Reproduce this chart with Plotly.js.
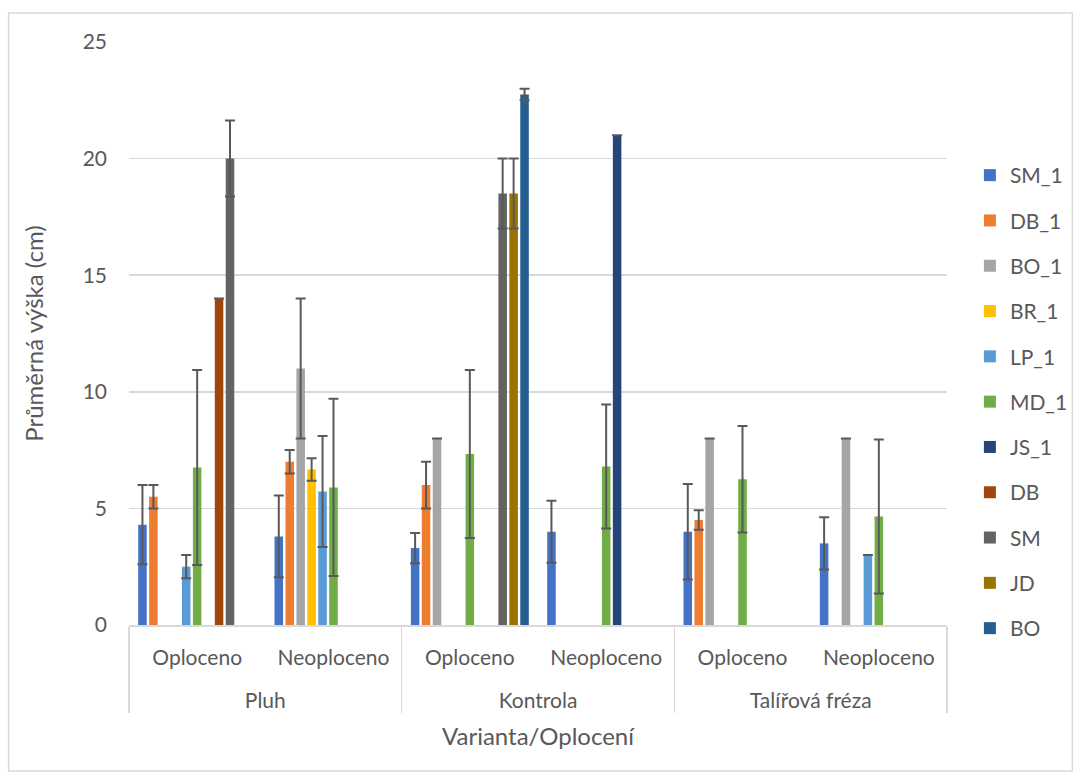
<!DOCTYPE html>
<html>
<head>
<meta charset="utf-8">
<script src="https://cdn.plot.ly/plotly-3.0.1.min.js"></script>
<style>
html,body{margin:0;padding:0;background:#fff;}
#chart{width:1085px;height:780px;}
</style>
</head>
<body>
<div id="chart"></div>
<script>
// Categories
const outerCats = ["Pluh","Pluh","Kontrola","Kontrola","Talířová fréza","Talířová fréza"];
const innerCats = ["Oploceno","Neoploceno","Oploceno","Neoploceno","Oploceno","Neoploceno"];

// Series names
const seriesNames = ["SM_1","DB_1","BO_1","BR_1","LP_1","MD_1","JS_1","DB","SM","JD","BO"];

// Mean heights (cm)
const SM_1 = [4.3, 3.8, 3.3, 4.0, 4.0, 3.5];
const DB_1 = [5.5, 7.0, 6.0, null, 4.5, null];
const BO_1 = [null, 11.0, 8.0, null, 8.0, 8.0];
const BR_1 = [null, 6.67, null, null, null, null];
const LP_1 = [2.5, 5.72, null, null, null, 3.0];
const MD_1 = [6.75, 5.9, 7.33, 6.8, 6.25, 4.65];
const JS_1 = [null, null, null, 21.0, null, null];
const DB   = [14.0, null, null, null, null, null];
const SM   = [20.0, null, 18.5, null, null, null];
const JD   = [null, null, 18.5, null, null, null];
const BO   = [null, null, 22.75, null, null, null];

// Error values (cm)
const SM_1_err = [1.7, 1.75, 0.65, 1.33, 2.05, 1.12];
const DB_1_err = [0.5, 0.5, 1.0, null, 0.42, null];
const BO_1_err = [null, 3.0, 0, null, 0, 0];
const BR_1_err = [null, 0.48, null, null, null, null];
const LP_1_err = [0.5, 2.38, null, null, null, 0];
const MD_1_err = [4.18, 3.8, 3.6, 2.66, 2.28, 3.3];
const JS_1_err = [null, null, null, 0, null, null];
const DB_err   = [0, null, null, null, null, null];
const SM_err   = [1.63, null, 1.5, null, null, null];
const JD_err   = [null, null, 1.5, null, null, null];
const BO_err   = [null, null, 0.25, null, null, null];

const colors = ["#4472C4","#ED7D31","#A5A5A5","#FFC000","#5B9BD5","#70AD47","#264478","#9E480E","#636363","#997300","#255E91"];

const values = [SM_1, DB_1, BO_1, BR_1, LP_1, MD_1, JS_1, DB, SM, JD, BO];
const errors = [SM_1_err, DB_1_err, BO_1_err, BR_1_err, LP_1_err, MD_1_err, JS_1_err, DB_err, SM_err, JD_err, BO_err];

// inner labels get an empty second line so the outer level sits lower, as in the reference
const innerLabels = innerCats.map(c => c + "<br><span style='font-size:27px'>&nbsp;</span>");

const FONT = "Lato, 'Open Sans', sans-serif";
const TXT = "#595959";

const traces = seriesNames.map((name, i) => ({
  type: "bar",
  name: name,
  legendgroup: name,
  x: [outerCats, innerLabels],
  y: values[i],
  marker: {color: colors[i], line: {width: 0}},
  error_y: {type: "data", array: errors[i], visible: true, color: "#595959", thickness: 2, width: 5}
}));

// plot area in px
const L = 129, R = 951, T = 42, B = 625;
const W = R - L, H = B - T;
const px = v => (v - L) / W;
const py = v => (B - v) / H;

const layout = {
  width: 1085, height: 780,
  paper_bgcolor: "#fff", plot_bgcolor: "#fff",
  margin: {l: L, r: 1085 - R, t: T, b: 780 - B, pad: 0},
  font: {family: FONT, color: TXT, size: 21},
  barmode: "group",
  bargap: 0.117,
  bargroupgap: 0.22,
  showlegend: true,
  legend: {
    x: px(974), y: py(155), xanchor: "left", yanchor: "top",
    font: {family: FONT, size: 21, color: TXT},
    tracegroupgap: 15, bgcolor: "rgba(0,0,0,0)"
  },
  xaxis: {
    type: "multicategory",
    showline: true, linecolor: "#D9D9D9", linewidth: 1.5,
    showgrid: false, ticks: "",
    ticklabelstandoff: 13,
    tickfont: {family: FONT, size: 21, color: TXT},
    showdividers: true, dividercolor: "#D9D9D9", dividerwidth: 1.5,
    title: {text: "Varianta/Oplocení", font: {family: FONT, size: 24, color: TXT}, standoff: 17}
  },
  yaxis: {
    range: [0, 25], dtick: 5, tick0: 0,
    showgrid: true, gridcolor: "#D9D9D9", gridwidth: 1.5,
    zeroline: false, showline: false, ticks: "",
    ticklabelstandoff: 21,
    tickfont: {family: FONT, size: 21, color: TXT},
    title: {text: "Průměrná výška (cm)", font: {family: FONT, size: 24, color: TXT}, standoff: 32}
  },
  shapes: [{
    type: "rect", xref: "paper", yref: "paper", layer: "below",
    x0: px(8), x1: px(1077), y0: py(771), y1: py(13),
    line: {color: "#D9D9D9", width: 1.5}, fillcolor: "rgba(0,0,0,0)"
  }]
};

Plotly.newPlot("chart", traces, layout, {displayModeBar: false, staticPlot: true});
</script>
</body>
</html>
